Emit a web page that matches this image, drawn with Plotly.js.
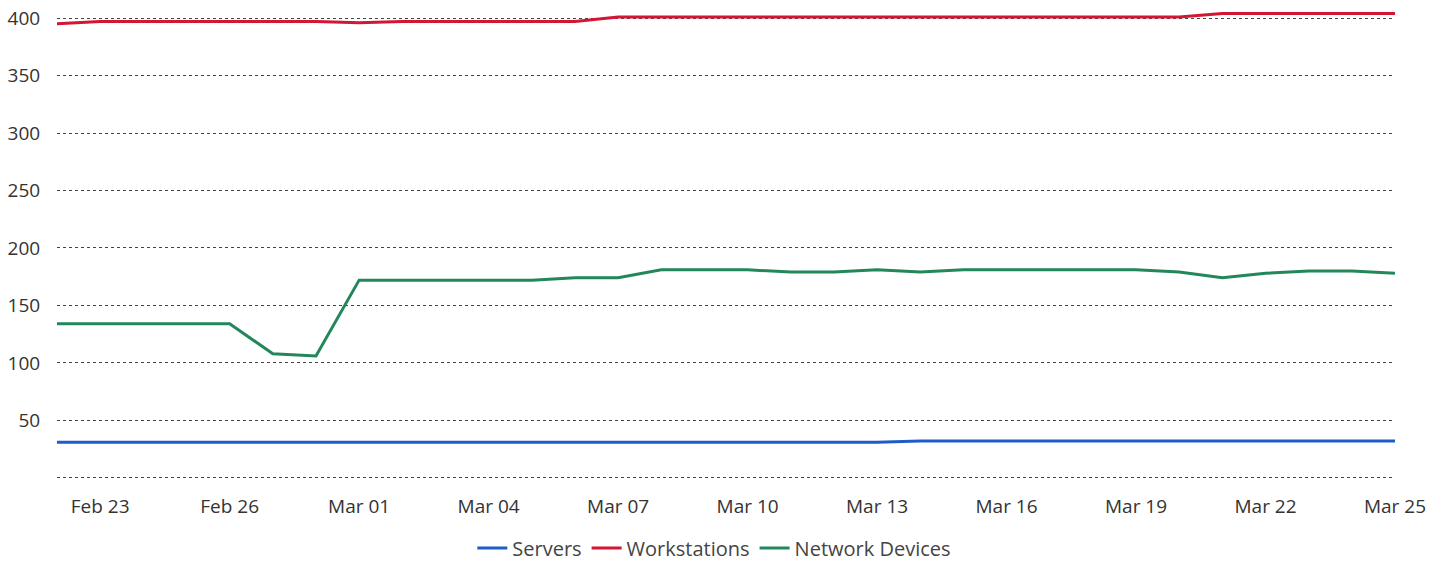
<!DOCTYPE html>
<html>
<head>
<meta charset="utf-8">
<script src="https://cdn.plot.ly/plotly-3.0.1.min.js"></script>
<style>html,body{margin:0;padding:0;background:#fff;}#chart{width:1446px;height:562px;}</style>
</head>
<body>
<div id="chart"></div>
<script>
const dates = [
  '2023-02-22','2023-02-23','2023-02-24','2023-02-25','2023-02-26','2023-02-27','2023-02-28',
  '2023-03-01','2023-03-02','2023-03-03','2023-03-04','2023-03-05','2023-03-06','2023-03-07',
  '2023-03-08','2023-03-09','2023-03-10','2023-03-11','2023-03-12','2023-03-13','2023-03-14',
  '2023-03-15','2023-03-16','2023-03-17','2023-03-18','2023-03-19','2023-03-20','2023-03-21',
  '2023-03-22','2023-03-23','2023-03-24','2023-03-25'
];
const servers = [31,31,31,31,31,31,31, 31,31,31,31,31,31,31, 31,31,31,31,31,31,32, 32,32,32,32,32,32,32, 32,32,32,32];
const workstations = [395,397,397,397,397,397,397, 396,397,397,397,397,397,401, 401,401,401,401,401,401,401, 401,401,401,401,401,401,404, 404,404,404,404];
const networkDevices = [134,134,134,134,134,108,106, 172,172,172,172,172,174,174, 181,181,181,179,179,181,179, 181,181,181,181,181,179,174, 178,180,180,178];
const seriesNames = ['Servers','Workstations','Network Devices'];
const xTickVals = ['2023-02-23','2023-02-26','2023-03-01','2023-03-04','2023-03-07','2023-03-10','2023-03-13','2023-03-16','2023-03-19','2023-03-22','2023-03-25'];
const xTickText = ['Feb 23','Feb 26','Mar 01','Mar 04','Mar 07','Mar 10','Mar 13','Mar 16','Mar 19','Mar 22','Mar 25'];
const yTickVals = [0,50,100,150,200,250,300,350,400];
const yTickText = ['','50','100','150','200','250','300','350','400'];

const font = '"Open Sans", Lato, sans-serif';
const traces = [
  {x: dates, y: servers, name: seriesNames[0], mode: 'lines', line: {color: '#1f5cc8', width: 3}},
  {x: dates, y: workstations, name: seriesNames[1], mode: 'lines', line: {color: '#d41533', width: 3}},
  {x: dates, y: networkDevices, name: seriesNames[2], mode: 'lines', line: {color: '#22875a', width: 3}}
];
const layout = {
  width: 1446, height: 562,
  margin: {l: 57, r: 51, t: 10, b: 83, autoexpand: false},
  paper_bgcolor: '#ffffff', plot_bgcolor: '#ffffff',
  font: {family: font, size: 19, color: '#333'},
  showlegend: true,
  legend: {orientation: 'h', x: 0.494, xanchor: 'center', xref: 'container', y: 0.025, yanchor: 'middle', yref: 'container', font: {family: font, size: 20, color: '#444'}},
  xaxis: {
    type: 'date', range: ['2023-02-22', '2023-03-25'],
    tickmode: 'array', tickvals: xTickVals, ticktext: xTickText,
    showgrid: false, zeroline: false, showline: false,
    ticks: 'outside', ticklen: 10, tickcolor: 'rgba(0,0,0,0)',
    tickfont: {family: font, size: 19, color: '#333'}
  },
  yaxis: {
    range: [-1, 407],
    tickmode: 'array', tickvals: yTickVals, ticktext: yTickText,
    showgrid: true, gridcolor: '#444', griddash: 'dot', gridwidth: 1,
    zeroline: false, showline: false,
    ticks: 'outside', ticklen: 12, tickcolor: 'rgba(0,0,0,0)',
    tickfont: {family: font, size: 19, color: '#333'}
  }
};
Plotly.newPlot('chart', traces, layout, {displayModeBar: false, staticPlot: true});
</script>
</body>
</html>
